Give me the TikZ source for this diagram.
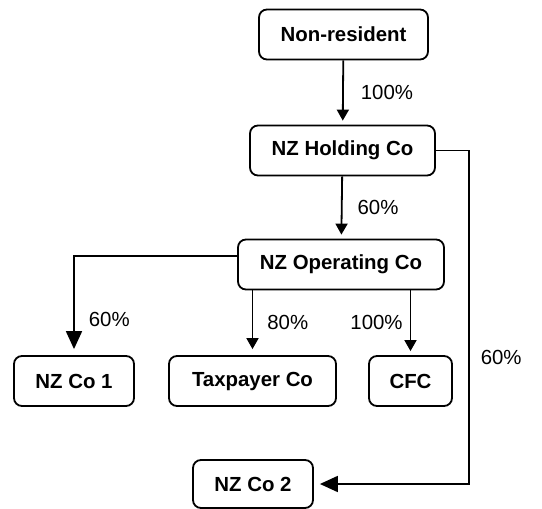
\documentclass[tikz,border=0pt]{standalone}
\usepackage{fontspec}
\setmainfont{Liberation Sans}
\usetikzlibrary{arrows.meta,positioning}
\tikzset{
  >= {Triangle[width=6pt,length=5.5pt]},
  bx/.style={rectangle, draw, line width=0.9pt, rounded corners=4pt, minimum width=#1,
    minimum height=25pt, inner sep=0pt, font=\bfseries\fontsize{10.2}{12}\selectfont},
  pc/.style={inner sep=0pt, font=\fontsize{10.2}{12}\selectfont},
  ar/.style={->, line width=0.9pt, shorten >=2pt},
  br/.style={-{Triangle[width=8pt,length=9pt]}, line width=0.9pt, shorten >=3pt}
}
\begin{document}
\begin{tikzpicture}[x=0.5pt,y=-0.5pt]
  \useasboundingbox (0,0) rectangle (542,509);
  % companies
  \node[bx=84.5pt] (nonres) at (343.5,34.5) {Non-resident};
  \node[bx=92.5pt] (holding) at (342.5,150.5) {NZ Holding Co};
  \node[bx=103pt] (operating) at (341,264.5) {NZ Operating Co};
  \node[bx=60pt] (co1) at (74,381) {NZ Co 1};
  \node[bx=83.5pt] (taxpayer) at (252.5,381) {Taxpayer Co};
  \node[bx=41.5pt] (cfc) at (410.5,381) {CFC};
  \node[bx=60pt, minimum height=24pt] (co2) at (253,484) {NZ Co 2};
  \coordinate[right=16.5pt of holding.east] (rt);
  % holdings
  \draw[ar] (nonres) -- node[pc, right=8.5pt] {100\%} (holding);
  \draw[ar] (holding) -- node[pc, right=7.5pt] {60\%} (operating);
  \draw[br] ([yshift=4.25pt]operating.west) -| node[pc, right=7pt, pos=0.82] {60\%} (co1.north);
  \draw[ar, shorten >=3pt] (taxpayer.north |- operating.south) -- node[pc, right=7pt] {80\%} (taxpayer.north);
  \draw[ar, shorten >=2pt] (cfc.north |- operating.south) -- node[pc, left=3.5pt] {100\%} (cfc.north);
  \draw[br] (holding.east) -- (rt) |- node[pc, right=5.5pt, pos=0.31] {60\%} (co2.east);
\end{tikzpicture}
\end{document}
